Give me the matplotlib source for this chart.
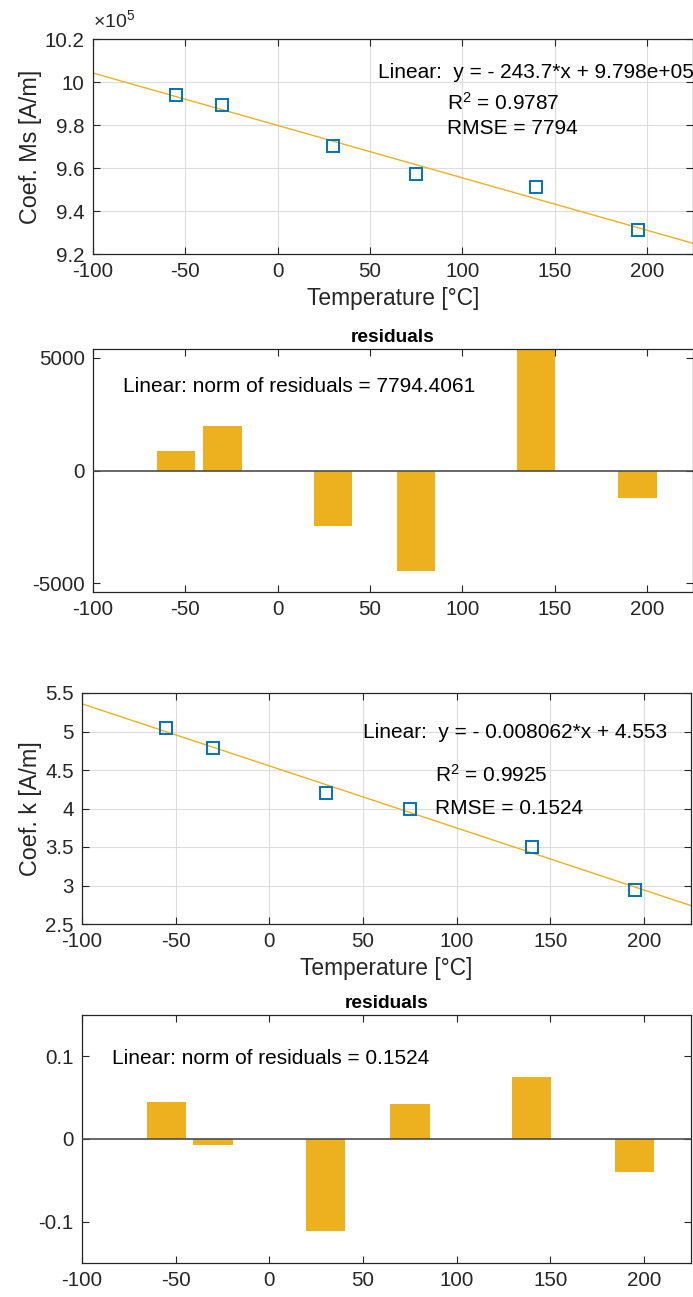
import numpy as np
import matplotlib
matplotlib.use("Agg")
import matplotlib.pyplot as plt
import matplotlib.ticker as ticker

plt.rcParams['font.family'] = ['Liberation Sans', 'DejaVu Sans']
plt.rcParams['mathtext.fontset'] = 'custom'
plt.rcParams['mathtext.rm'] = 'Liberation Sans'
plt.rcParams['mathtext.it'] = 'Liberation Sans:italic'
plt.rcParams['axes.unicode_minus'] = False

# measurement temperatures
temps = [-55, -30, 30, 75, 140, 195]

# saturation magnetisation coefficient
ms_vals = [994060, 989070, 970030, 957040, 951080, 931040]
ms_resid = [855, 1962, -2463, -4484, 5398, -1239]
ms_slope, ms_icpt = -243.7, 9.798e5
ms_r2, ms_rmse, ms_norm = 0.9787, 7794, 7794.4061

# k coefficient
k_vals = [5.041, 4.788, 4.200, 3.991, 3.500, 2.941]
k_resid = [0.0444, -0.0072, -0.1108, 0.0424, 0.0752, -0.0404]
k_slope, k_icpt = -0.008062, 4.553
k_r2, k_rmse, k_norm = 0.9925, 0.1524, 0.1524

xticks = [-100, -50, 0, 50, 100, 150, 200]
XLIM = (-100, 225)

BLUE = "#0072BD"
GOLD = "#EDB120"
DARK = "#262626"
W, H = 693, 1297


def box(l, t, r, b):
    return [l / W, 1 - b / H, (r - l) / W, (b - t) / H]


def style(ax):
    ax.set_xlim(*XLIM)
    ax.set_xticks(xticks)
    ax.tick_params(direction="in", length=5, width=0.8, colors=DARK,
                   labelsize=14.8, top=True, right=True, pad=6)
    for s in ax.spines.values():
        s.set_color(DARK)
        s.set_linewidth(0.9)
    ax.yaxis.set_major_formatter(ticker.FuncFormatter(lambda v, p: f"{v:g}"))


def fit_panel(ax, y, slope, icpt, ylim, yticks, ylabel, eq, r2, rmse, tx, ty):
    style(ax)
    xs = np.array(XLIM, dtype=float)
    ax.plot(xs, slope * xs + icpt, color=GOLD, lw=1.0, zorder=2)
    ax.plot(temps, y, ls="none", marker="s", ms=9, mfc="none",
            mec=BLUE, mew=1.4, zorder=3)
    ax.set_ylim(*ylim)
    ax.set_yticks(yticks)
    ax.grid(True, color="#dcdcdc", lw=0.8)
    ax.set_axisbelow(True)
    ax.set_xlabel("Temperature [°C]", fontsize=16.4, color=DARK, labelpad=4)
    ax.set_ylabel(ylabel, fontsize=16.8, color=DARK)
    ax.text(tx[0], ty[0], eq, fontsize=15, transform=ax.transAxes,
            va="center", clip_on=False)
    ax.text(tx[1], ty[1], f"R$^2$ = {r2}", fontsize=15,
            transform=ax.transAxes, va="center")
    ax.text(tx[1], ty[2], f"RMSE = {rmse}", fontsize=15,
            transform=ax.transAxes, va="center")


def resid_panel(ax, r, ylim, yticks, label, lx, ly):
    style(ax)
    ax.bar(temps, r, width=21, color=GOLD, edgecolor="none", zorder=2)
    ax.axhline(0, color="#4d4d4d", lw=1.2, zorder=3)
    ax.set_ylim(*ylim)
    ax.set_yticks(yticks)
    ax.set_title("residuals", fontsize=13.8, fontweight="bold", pad=5)
    ax.text(lx, ly, label, fontsize=15, transform=ax.transAxes, va="center")


fig = plt.figure(figsize=(W / 100, H / 100), dpi=100)

ax1 = fig.add_axes(box(93, 39, 693, 254))
fit_panel(ax1, ms_vals, ms_slope, ms_icpt, (9.2e5, 10.2e5),
          np.arange(9.2e5, 10.21e5, 0.2e5), "Coef. Ms [A/m]",
          "Linear:  y = - 243.7*x + 9.798e+05", ms_r2, ms_rmse,
          ((378 - 93) / 600, (447 - 93) / 600),
          ((254 - 73) / 215, (254 - 103) / 215, (254 - 128) / 215))
ax1.yaxis.set_major_formatter(ticker.FuncFormatter(lambda v, p: f"{v / 1e5:g}"))
ax1.text(0.0, 1.035, r"$\times$10$^5$", fontsize=14, color=DARK,
         transform=ax1.transAxes, va="bottom")
ax1.yaxis.set_label_coords(-0.085, 0.5)

ax2 = fig.add_axes(box(93, 349, 693, 592))
m = max(abs(v) for v in ms_resid)
resid_panel(ax2, ms_resid, (-m, m), [-5000, 0, 5000],
            f"Linear: norm of residuals = {ms_norm}",
            (123 - 93) / 600, (592 - 387) / 243)

ax3 = fig.add_axes(box(82, 693, 691, 924))
fit_panel(ax3, k_vals, k_slope, k_icpt, (2.5, 5.5),
          np.arange(2.5, 5.51, 0.5), "Coef. k [A/m]",
          "Linear:  y = - 0.008062*x + 4.553", k_r2, k_rmse,
          ((363 - 82) / 609, (435 - 82) / 609),
          ((924 - 733) / 231, (924 - 775) / 231, (924 - 808) / 231))
ax3.yaxis.set_label_coords(-0.066, 0.5)

ax4 = fig.add_axes(box(82, 1015, 691, 1263))
resid_panel(ax4, k_resid, (-0.15, 0.15), [-0.1, 0, 0.1],
            f"Linear: norm of residuals = {k_norm}",
            (112 - 82) / 609, (1263 - 1059) / 248)

fig.savefig("out.png", dpi=100, facecolor="white")
